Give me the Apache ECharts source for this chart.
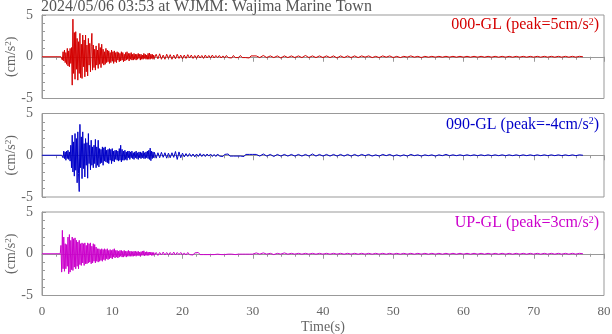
<!DOCTYPE html>
<html><head><meta charset="utf-8">
<script src="https://cdn.jsdelivr.net/npm/echarts@6/dist/echarts.min.js"></script>
<style>html,body{margin:0;padding:0;background:#fff}#c{width:612px;height:334px}</style>
</head><body><div id="c"></div>
<script>
// ---- text / categories ----
const stationTitle = '2024/05/06 03:53 at WJMM: Wajima Marine Town';
const componentNames = ['000-GL', '090-GL', 'UP-GL'];
const peakValues = [5, -4, 3];
const componentColors = ['#d40000', '#0000c8', '#cc00cc'];
const yAxisName = '(cm/s{s|2})';
const xAxisName = 'Time(s)';
const xMin = 0, xMax = 80, xInterval = 10;
const yMin = -5, yMax = 5, yInterval = 5;

const traceStart = 0;
const activeStep = 0.1;
const midStart = 16, midStep = 0.25;
const tailStart = 30, tailStep = 0.5;

// ---- 000-GL (cm/s^2) ----
const ns000Onset = 2.8;
const ns000Active = [
0.2,-0.4,0.6,-0.5,0.8,-0.7,0.5,-0.9,1.0,-1.1,
0.7,-1.2,1.0,-0.8,1.1,-3.4,4.5,-2.0,2.9,-2.7,
3.0,-1.5,2.2,-2.8,1.8,-2.0,2.8,-2.5,1.5,-2.6,
2.6,-1.2,2.0,-2.4,2.6,-1.8,1.4,-2.3,2.2,-1.0,
1.6,-1.8,1.2,2.8,-1.6,1.4,-1.3,0.9,-1.6,1.3,
-1.0,0.8,-1.4,1.6,-0.9,1.1,-1.3,1.5,-0.8,0.9,
-1.0,0.6,-0.9,1.0,-0.7,0.8,-0.6,0.7,-0.8,0.5,
-0.7,0.8,-0.5,0.6,-0.8,0.7,-0.6,0.5,-0.7,0.6,
-0.4,0.5,-0.6,0.4,-0.5,0.6,-0.4,0.5,-0.6,0.3,
-0.5,0.5,-0.4,0.6,-0.3,0.4,-0.5,0.4,-0.3,0.5,
-0.4,0.3,-0.4,0.4,-0.3,0.3,-0.4,0.3,-0.3,0.4,
-0.2,0.3,-0.4,0.3,-0.3,0.2,-0.3,0.4,-0.2,0.3,
-0.3,0.2,-0.3,0.4,-0.3,0.45,-0.3,0.3,-0.2,0.3,
-0.3,0.2,-0.2];
const ns000Mid = [
0.3,-0.25,0.35,-0.3,0.2,-0.3,0.3,-0.2,
0.25,-0.3,0.2,-0.25,0.3,-0.2,0.2,-0.25,
0.2,-0.2,0.25,-0.15,0.2,-0.2,0.15,-0.2,
0.2,-0.15,0.15,-0.2,0.2,-0.15,0.15,-0.15,
0.2,-0.15,0.15,-0.1,0.15,-0.15,0.1,-0.15,
0.15,-0.1,0.1,-0.15,0.15,-0.1,0.1,-0.1,
0.15,-0.1,0.1,-0.1,0.1,-0.15,0.1,-0.1];
const ns000Tail = [
0.1,-0.1,0.15,-0.1,0.1,-0.1,0.1,-0.15,0.1,-0.1,
0.1,-0.1,0.1,-0.1,0.15,-0.1,0.1,-0.1,0.1,-0.1,
0.1,-0.1,0.1,-0.15,0.1,-0.1,0.1,-0.1,0.1,-0.1,
0.1,-0.05,0.1,-0.1,0.05,-0.1,0.1,-0.05,0.1,-0.1,
0.05,-0.1,0.05,-0.05,0.1,-0.05,0.05,-0.1,0.05,-0.05,
0.05,-0.05,0.05,-0.05,0.05,-0.05,0.05,-0.05,0.05,-0.05,
0.05,-0.05,0.05,-0.05,0.05,-0.05,0.05,-0.05,0.05,-0.05,
0.05,-0.05,0.05,-0.05,0.05,-0.05,0.05,-0.05,0.05,-0.05,
0.05,-0.05,0.05,-0.05,0.05,-0.05,0.05,-0.05,0.05,-0.05,
0.05,-0.05,0.05,0];

// ---- 090-GL (cm/s^2) ----
const ew090Onset = 2.9;
const ew090Active = [
0.2,-0.3,0.5,-0.4,0.4,-0.6,0.5,-0.4,0.6,-0.5,
0.4,-0.7,1.2,-1.5,2.4,-2.0,1.6,-2.5,2.6,-1.8,
2.0,-3.3,2.8,-2.2,-4.35,3.7,-1.5,2.2,-2.8,2.8,
-1.6,1.4,-2.6,2.0,-1.2,1.5,-2.75,2.6,-1.0,1.2,
-1.75,1.8,-1.2,1.0,-1.5,1.2,-1.0,1.9,-1.5,1.0,
-1.2,1.8,-1.4,0.8,-1.0,0.7,-0.9,1.0,-1.2,0.9,
-0.7,1.0,-0.8,0.6,-0.9,0.7,-1.0,0.8,-0.6,0.7,
-1.0,0.8,-0.7,0.5,-0.8,0.6,-0.5,0.6,-0.6,0.5,
-0.7,0.8,-0.6,1.2,-0.8,0.7,-0.6,0.5,-0.6,0.6,
-0.5,0.4,-0.6,0.5,-0.3,0.5,-0.5,0.4,-0.3,0.5,
-0.4,0.3,-0.5,0.4,-0.3,0.5,-0.4,0.3,-0.5,0.4,
-0.3,0.4,-0.4,0.3,-0.3,0.5,-0.4,0.3,-0.4,0.4,
-0.3,0.5,-0.4,0.6,-0.5,0.85,-0.65,0.5,-0.4,0.4,
-0.3,0.35];
const ew090Mid = [
-0.35,0.3,-0.3,0.35,-0.25,0.3,-0.35,0.25,
-0.3,0.3,-0.25,0.45,-0.5,0.4,-0.3,0.25,
-0.2,0.2,-0.15,0.2,-0.15,0.15,-0.2,0.15,
-0.15,0.2,-0.15,0.15,-0.15,0.15,-0.1,0.15,
-0.15,0.1,-0.15,0.15,-0.1,0.1,-0.15,0.1,
-0.1,0.15,-0.1,0.1,-0.1,0.1,-0.1,0.1,
-0.1,0.1,-0.15,0.1,-0.1,0.1,-0.1,0.1];
const ew090Tail = [
0.1,-0.1,0.15,-0.1,0.1,-0.15,0.1,-0.1,0.1,-0.1,
0.1,-0.1,0.1,-0.1,0.1,-0.1,0.15,-0.1,0.1,-0.1,
0.1,-0.1,0.1,-0.1,0.1,-0.1,0.1,-0.1,0.1,-0.1,
0.1,-0.05,0.1,-0.1,0.05,-0.1,0.1,-0.05,0.1,-0.1,
0.05,-0.1,0.05,-0.1,0.1,-0.05,0.05,-0.1,0.05,-0.05,
0.05,-0.1,0.05,-0.05,0.1,-0.05,0.05,-0.05,0.05,-0.05,
0.05,-0.05,0.05,-0.05,0.05,-0.05,0.05,-0.05,0.05,-0.05,
0.05,-0.05,0.05,-0.05,0.05,-0.05,0.05,-0.05,0.05,-0.05,
0.05,-0.05,0.05,-0.05,0.05,-0.05,0.05,-0.05,0.05,-0.05,
0.05,-0.05,0.05,0];

// ---- UP-GL (cm/s^2) ----
const upOnset = 2.7;
const upActive = [
1.0,-2.2,2.8,-1.8,2.0,-2.1,1.2,-1.8,1.1,-1.5,
2.0,-2.4,2.3,-2.2,1.6,-1.9,2.0,-2.0,1.8,-1.6,
1.9,-1.8,1.6,-1.5,1.4,-1.8,1.6,-1.3,1.2,-1.4,
1.3,-1.1,1.2,-1.4,1.3,-1.2,1.0,-1.2,1.3,-1.1,
1.2,-1.0,1.3,-1.2,0.9,-1.1,1.2,-0.9,1.1,-1.1,
0.8,-0.9,0.6,-1.0,0.6,-0.9,0.5,-0.8,0.6,-0.9,
0.5,-0.7,0.6,-0.8,0.5,-0.6,0.6,-0.7,0.4,-0.6,
0.5,-0.5,0.4,-0.6,0.5,-0.4,0.6,-0.5,0.4,-0.4,
0.4,-0.5,0.3,-0.4,0.4,-0.3,0.4,-0.4,0.3,-0.4,
0.4,-0.3,0.3,-0.4,0.3,-0.3,0.4,-0.3,0.3,-0.3,
0.3,-0.3,0.25,-0.3,0.3,-0.25,0.3,-0.3,0.25,-0.2,
0.3,-0.25,0.2,-0.3,0.25,-0.2,0.3,-0.2,0.35,-0.25,
0.2,-0.2,0.25,-0.2,0.2,-0.2,0.2,-0.15,0.2,-0.2,
0.15,-0.2,0.15,-0.15];
const upMid = [
0.15,-0.2,0.15,-0.15,0.2,-0.15,0.15,-0.15,
0.15,-0.15,0.2,-0.15,0.15,-0.1,0.15,-0.15,
0.1,-0.15,0.15,-0.1,0.1,-0.15,0.1,-0.1,
0.15,-0.1,0.1,-0.1,0.1,-0.1,0.1,-0.1,
0.1,-0.1,0.1,-0.05,0.1,-0.1,0.05,-0.1,
0.1,-0.05,0.1,-0.05,0.05,-0.1,0.05,-0.05,
0.1,-0.05,0.05,-0.05,0.1,-0.05,0.05,-0.05];
const upTail = [
0.1,-0.05,0.1,-0.05,0.05,-0.1,0.05,-0.05,0.1,-0.05,
0.05,-0.05,0.05,-0.05,0.05,-0.05,0.05,-0.05,0.05,-0.05,
0.05,-0.05,0.05,-0.05,0.05,-0.05,0.05,-0.05,0.05,-0.05,
0.05,-0.05,0.05,-0.05,0.05,-0.05,0.05,-0.05,0.05,-0.05,
0.05,-0.05,0.05,-0.05,0.05,-0.05,0.05,-0.05,0.05,-0.05,
0.05,-0.05,0.05,-0.05,0.05,-0.05,0.05,-0.05,0.05,-0.05,
0.05,-0.05,0.05,-0.05,0.05,-0.05,0.05,-0.05,0.05,-0.05,
0.05,-0.05,0.05,-0.05,0.05,-0.05,0.05,-0.05,0.05,-0.05,
0.05,-0.05,0.05,-0.05,0.05,-0.05,0.05,-0.05,0.05,-0.05,
0.05,-0.05,0.05,0];

function buildTrace(onset, active, mid, tail) {
  const d = [[traceStart, 0], [+(onset - activeStep).toFixed(2), 0]];
  active.forEach((v, i) => d.push([+(onset + i * activeStep).toFixed(2), v]));
  mid.forEach((v, i) => d.push([midStart + (i + 1) * midStep, v]));
  tail.forEach((v, i) => d.push([tailStart + (i + 1) * tailStep, v]));
  return d;
}
const traces = [
  buildTrace(ns000Onset, ns000Active, ns000Mid, ns000Tail),
  buildTrace(ew090Onset, ew090Active, ew090Mid, ew090Tail),
  buildTrace(upOnset, upActive, upMid, upTail)
];

const FONT = '"Liberation Serif", "Times New Roman", serif';
const GRAY = '#999999';
const TXT = '#666666';
const gridTops = [15, 113.5, 212];
const gridH = 83.5;

const grids = gridTops.map(t => ({
  left: 42, right: 8, top: t, height: gridH, show: true,
  borderColor: GRAY, borderWidth: 1, backgroundColor: 'transparent',
  containLabel: false, outerBoundsMode: 'none'
}));

const xAxes = gridTops.map((t, i) => ({
  type: 'value', gridIndex: i, min: xMin, max: xMax, interval: xInterval,
  axisLine: { show: true, lineStyle: { color: GRAY, width: 1 } },
  axisTick: { show: true, inside: false, length: 5, lineStyle: { color: GRAY } },
  minorTick: { show: true, splitNumber: 5, length: 3, lineStyle: { color: GRAY } },
  splitLine: { show: false },
  axisLabel: { show: i === 2, color: TXT, fontFamily: FONT, fontSize: 13, margin: 10 },
  name: i === 2 ? xAxisName : '', nameLocation: 'middle', nameGap: 25, nameMoveOverlap: false,
  nameTextStyle: { color: TXT, fontFamily: FONT, fontSize: 14 }
}));

const yAxes = gridTops.map((t, i) => ({
  type: 'value', gridIndex: i, min: yMin, max: yMax, interval: yInterval,
  axisLine: { show: true, lineStyle: { color: GRAY, width: 1 } },
  axisTick: { show: true, inside: true, length: 4, lineStyle: { color: GRAY } },
  minorTick: { show: true, splitNumber: 5, length: 3, lineStyle: { color: GRAY } },
  splitLine: { show: false },
  axisLabel: { color: TXT, fontFamily: FONT, fontSize: 14, margin: 9 },
  name: yAxisName, nameLocation: 'middle', nameGap: 24, nameRotate: 90, nameMoveOverlap: false,
  nameTextStyle: { color: TXT, fontFamily: FONT, fontSize: 14,
    rich: { s: { fontSize: 9, verticalAlign: 'top', color: TXT, fontFamily: FONT } } }
}));

const titleTops = [17, 116.5, 215];
const titles = [{
  text: stationTitle, left: 41, top: -1, padding: 0,
  textStyle: { color: '#555555', fontFamily: FONT, fontSize: 16, fontWeight: 'normal' }
}].concat(componentNames.map((n, i) => ({
  text: n + ' (peak=' + peakValues[i] + 'cm/s{s|2})',
  right: 13, top: titleTops[i], padding: 0,
  textStyle: { color: componentColors[i], fontFamily: FONT, fontSize: 16, fontWeight: 'normal',
    rich: { s: { fontSize: 10, verticalAlign: 'top', color: componentColors[i], fontFamily: FONT } } }
})));

const series = traces.map((d, i) => ({
  type: 'line', xAxisIndex: i, yAxisIndex: i, data: d,
  showSymbol: false, symbol: 'none', sampling: false, smooth: false,
  lineStyle: { color: componentColors[i], width: 1 }, clip: true, z: 3
}));

const chart = echarts.init(document.getElementById('c'), null, { renderer: 'canvas' });
chart.setOption({
  animation: false, backgroundColor: '#ffffff',
  title: titles, grid: grids, xAxis: xAxes, yAxis: yAxes, series: series
});
</script>
</body></html>
